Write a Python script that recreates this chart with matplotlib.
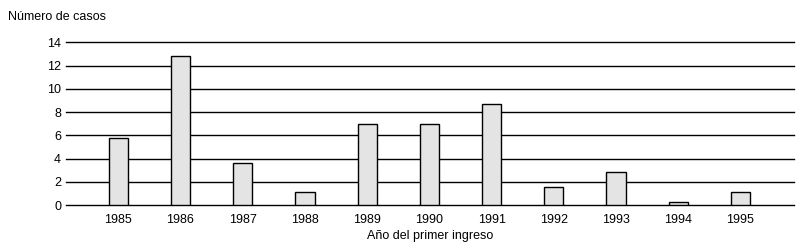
import numpy as np
import matplotlib.pyplot as plt

plt.rcParams['font.family'] = ['Liberation Sans', 'DejaVu Sans']

# data
years = ['1985', '1986', '1987', '1988', '1989', '1990',
         '1991', '1992', '1993', '1994', '1995']
casos = [5.75, 12.8, 3.6, 1.1, 6.95, 6.95, 8.65, 1.55, 2.8, 0.25, 1.1]
yticks = [0, 2, 4, 6, 8, 10, 12, 14]

fig = plt.figure(figsize=(8.06, 2.48), dpi=100)
ax = fig.add_axes([66 / 806, 43 / 248, 728 / 806, 162.7 / 248])

x = np.arange(len(years))
ax.bar(x, casos, width=0.31, color='#e4e4e4', edgecolor='black',
       linewidth=1.0, zorder=3)

ax.set_xlim(-0.84, len(years) - 1 + 0.86)
ax.set_ylim(0, 14)
ax.set_yticks(yticks)
ax.set_xticks(x)
ax.set_xticklabels(years)

ax.yaxis.grid(True, color='black', linewidth=1.0)
for gl in ax.get_ygridlines():
    gl.set_clip_on(False)
ax.set_axisbelow(True)

for s in ax.spines.values():
    s.set_visible(False)

ax.tick_params(axis='both', length=0, labelsize=9, colors='black')
ax.tick_params(axis='y', pad=3.5)
ax.tick_params(axis='x', pad=6.5)

ax.set_xlabel('Año del primer ingreso', fontsize=9, labelpad=2.5)
fig.text(8 / 806, 1 - 17.5 / 248, 'Número de casos', fontsize=9,
         ha='left', va='center')

fig.savefig('out.png', dpi=100)
